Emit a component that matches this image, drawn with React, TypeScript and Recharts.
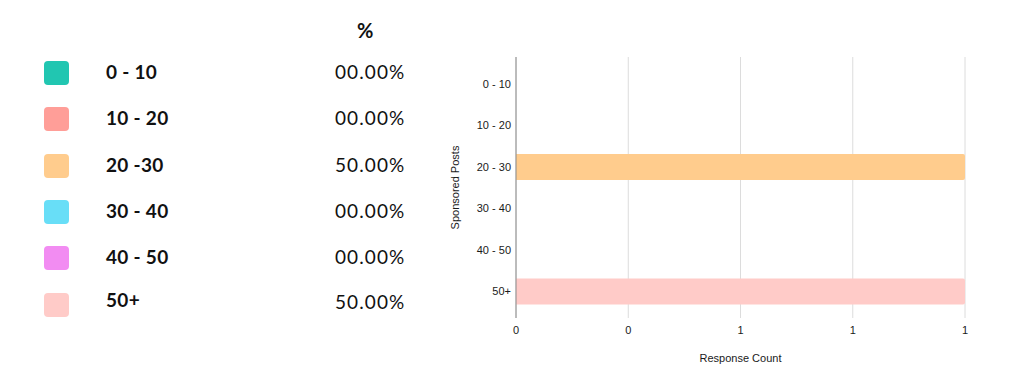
import React from "react";
import { BarChart, Bar, XAxis, YAxis, CartesianGrid, Cell } from "recharts";

const categories = ["0 - 10", "10 - 20", "20 - 30", "30 - 40", "40 - 50", "50+"];
const legendLabels = ["0 - 10", "10 - 20", "20 -30", "30 - 40", "40 - 50", "50+"];
const counts = [0, 0, 1, 0, 0, 1];
const percents = ["00.00%", "00.00%", "50.00%", "00.00%", "00.00%", "50.00%"];
const colors = ["#21C6B1", "#FF9E98", "#FFCC8D", "#68DEF7", "#F28CF2", "#FFCBC8"];
const xTicks = [0, 0.25, 0.5, 0.75, 1];

const data = categories.map((c, i) => ({ name: c, count: counts[i] }));

const legendFont = "Lato, 'Open Sans', sans-serif";
const chartFont = "'Liberation Sans', Arial, sans-serif";

export default function App() {
  return (
    <div style={{ position: "absolute", left: 0, top: 0, width: 1024, height: 384, background: "#fff", overflow: "hidden" }}>
      <div
        style={{
          position: "absolute",
          left: 357,
          top: 18,
          fontFamily: legendFont,
          fontWeight: 700,
          fontSize: 20,
          color: "#111",
        }}
      >
        %
      </div>
      {legendLabels.map((lab, i) => {
        const cy = 73 + i * 46.3;
        return (
          <div key={lab} style={{ position: "absolute", left: 0, top: cy - 15, height: 30, width: 420 }}>
            <div
              style={{
                position: "absolute",
                left: 44,
                top: 3,
                width: 25,
                height: 24,
                borderRadius: 4,
                background: colors[i],
              }}
            />
            <div
              style={{
                position: "absolute",
                left: 106,
                top: i === legendLabels.length - 1 ? -5 : -1,
                lineHeight: "30px",
                fontFamily: legendFont,
                fontWeight: 700,
                fontSize: 19,
                letterSpacing: 0.3,
                color: "#111",
              }}
            >
              {lab}
            </div>
            <div
              style={{
                position: "absolute",
                left: 335,
                top: i === legendLabels.length - 1 ? -3 : -1,
                lineHeight: "30px",
                fontFamily: legendFont,
                fontWeight: 400,
                fontSize: 19,
                letterSpacing: 1.1,
                color: "#111",
              }}
            >
              {percents[i]}
            </div>
          </div>
        );
      })}
      <div style={{ position: "absolute", left: 420, top: 0 }}>
        <BarChart
          width={560}
          height={384}
          data={data}
          layout="vertical"
          margin={{ top: 57, right: 15, bottom: 0, left: 0 }}
          barCategoryGap={0}
        >
          <CartesianGrid horizontal={false} stroke="#dcdcdc" />
          <XAxis
            type="number"
            domain={[0, 1]}
            ticks={xTicks}
            tickFormatter={(v: number) => String(Math.round(v))}
            axisLine={false}
            tickLine={false}
            tickSize={0}
            tickMargin={8}
            height={66}
            tick={{ fill: "#1a1a1a", fontSize: 11, fontFamily: chartFont }}
            label={{
              value: "Response Count",
              position: "insideBottom",
              offset: 22,
              style: { fill: "#1a1a1a", fontSize: 11, fontFamily: chartFont },
            }}
          />
          <YAxis
            type="category"
            dataKey="name"
            width={96}
            axisLine={{ stroke: "#8a8a8a" }}
            tickLine={false}
            tickSize={0}
            tickMargin={5}
            padding={{ top: 6, bottom: 6 }}
            tick={{ fill: "#1a1a1a", fontSize: 11, fontFamily: chartFont }}
            label={{
              value: "Sponsored Posts",
              angle: -90,
              position: "insideLeft",
              offset: 35,
              style: { textAnchor: "middle", fill: "#1a1a1a", fontSize: 11, fontFamily: chartFont },
            }}
          />
          <Bar dataKey="count" barSize={26} radius={[0, 2, 2, 0]} isAnimationActive={false}>
            {data.map((d, i) => (
              <Cell key={d.name} fill={colors[i]} />
            ))}
          </Bar>
        </BarChart>
      </div>
    </div>
  );
}
